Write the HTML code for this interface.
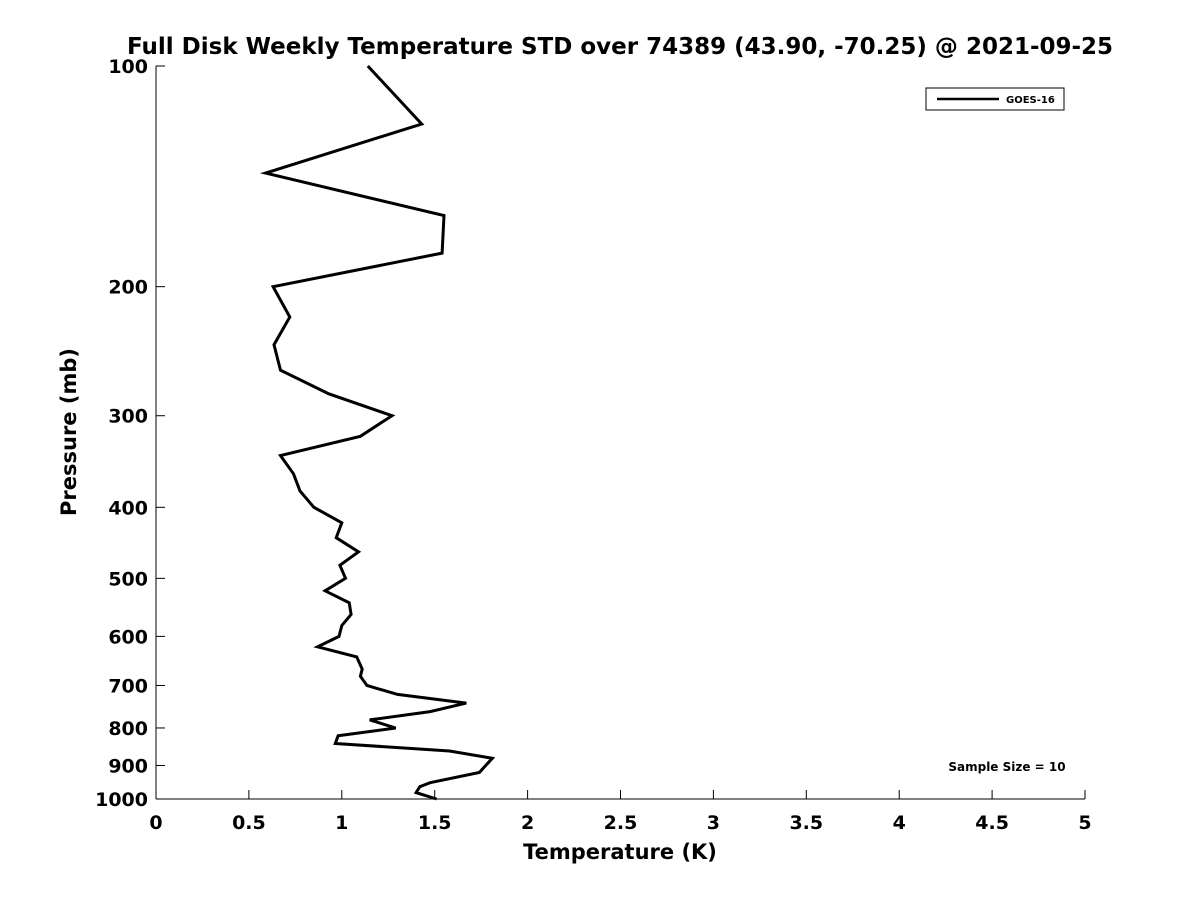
<!DOCTYPE html>
<html><head><meta charset="utf-8"><style>
body{margin:0;background:#fff;}
svg text{font-family:"DejaVu Sans","Liberation Sans",sans-serif;font-weight:bold;fill:#000;}
</style></head><body>
<svg id="chart" width="1200" height="900" viewBox="0 0 1200 900" xmlns="http://www.w3.org/2000/svg">
<rect width="1200" height="900" fill="#fff"/>
<text x="620" y="54" font-size="23" text-anchor="middle">Full Disk Weekly Temperature STD over 74389 (43.90, -70.25) @ 2021-09-25</text>
<g id="axes"></g>
<g id="series"></g>
<g>
<rect x="926" y="88" width="138" height="22" fill="#fff" stroke="#000" stroke-width="1"/>
<line x1="937" y1="99" x2="999" y2="99" stroke="#000" stroke-width="2.5"/>
<text x="1006" y="103" font-size="10">GOES-16</text>
</g>
<text x="1007" y="771" font-size="12" text-anchor="middle">Sample Size = 10</text>
<text x="620" y="859" font-size="21" text-anchor="middle">Temperature (K)</text>
<text x="76" y="432" font-size="21" text-anchor="middle" transform="rotate(-90 76 432)">Pressure (mb)</text>
</svg>
<script>
const xTicks=[0,0.5,1,1.5,2,2.5,3,3.5,4,4.5,5];
const xTickLabels=["0","0.5","1","1.5","2","2.5","3","3.5","4","4.5","5"];
const yTicks=[100,200,300,400,500,600,700,800,900,1000];
const pressure=[100,120,140,160,180,200,220,240,260,280,300,320,340,360,380,400,420,440,460,480,500,520,540,560,580,600,620,640,665,680,700,720,740,760,780,800,820,840,860,880,920,950,962,980,1000];
const stdTemp=[1.14,1.43,0.59,1.55,1.54,0.63,0.72,0.635,0.67,0.93,1.27,1.10,0.67,0.74,0.775,0.85,1.00,0.97,1.09,0.99,1.02,0.91,1.04,1.05,1.0,0.985,0.87,1.08,1.11,1.10,1.135,1.30,1.67,1.475,1.15,1.29,0.98,0.965,1.58,1.81,1.74,1.475,1.42,1.40,1.51];
const L=156,R=1085,T=66,B=799;
const xs=v=>L+(v-0)/(5-0)*(R-L);
const ys=p=>T+(Math.log10(p)-2)*(B-T);
const NS="http://www.w3.org/2000/svg";
function mk(t,a,parent){const e=document.createElementNS(NS,t);for(const k in a)e.setAttribute(k,a[k]);parent.appendChild(e);return e;}
const ax=document.getElementById('axes');
const xl=mk('line',{x1:L,y1:B,x2:R,y2:B,stroke:'#000','stroke-width':1},ax);


const yl=mk('line',{x1:L,y1:T,x2:L,y2:B,stroke:'#000','stroke-width':1},ax);


xTicks.forEach((v,i)=>{
  const x=xs(v);
  mk('line',{x1:x,y1:B,x2:x,y2:B-9,stroke:'#000','stroke-width':1},ax);
  const t=mk('text',{x:x,y:B+30,'font-size':19,'text-anchor':'middle'},ax);
  t.textContent=xTickLabels[i];
  
  
});
yTicks.forEach(p=>{
  const y=ys(p);
  mk('line',{x1:L,y1:y,x2:L+9,y2:y,stroke:'#000','stroke-width':1},ax);
  const t=mk('text',{x:L-8,y:y+7,'font-size':19,'text-anchor':'end'},ax);
  t.textContent=String(p);
  
  
});
const pts=pressure.map((p,i)=>xs(stdTemp[i]).toFixed(1)+','+ys(p).toFixed(1)).join(' ');
const line=mk('polyline',{points:pts,fill:'none',stroke:'#000','stroke-width':3,'stroke-linejoin':'miter'},document.getElementById('series'));


</script>
</body></html>
